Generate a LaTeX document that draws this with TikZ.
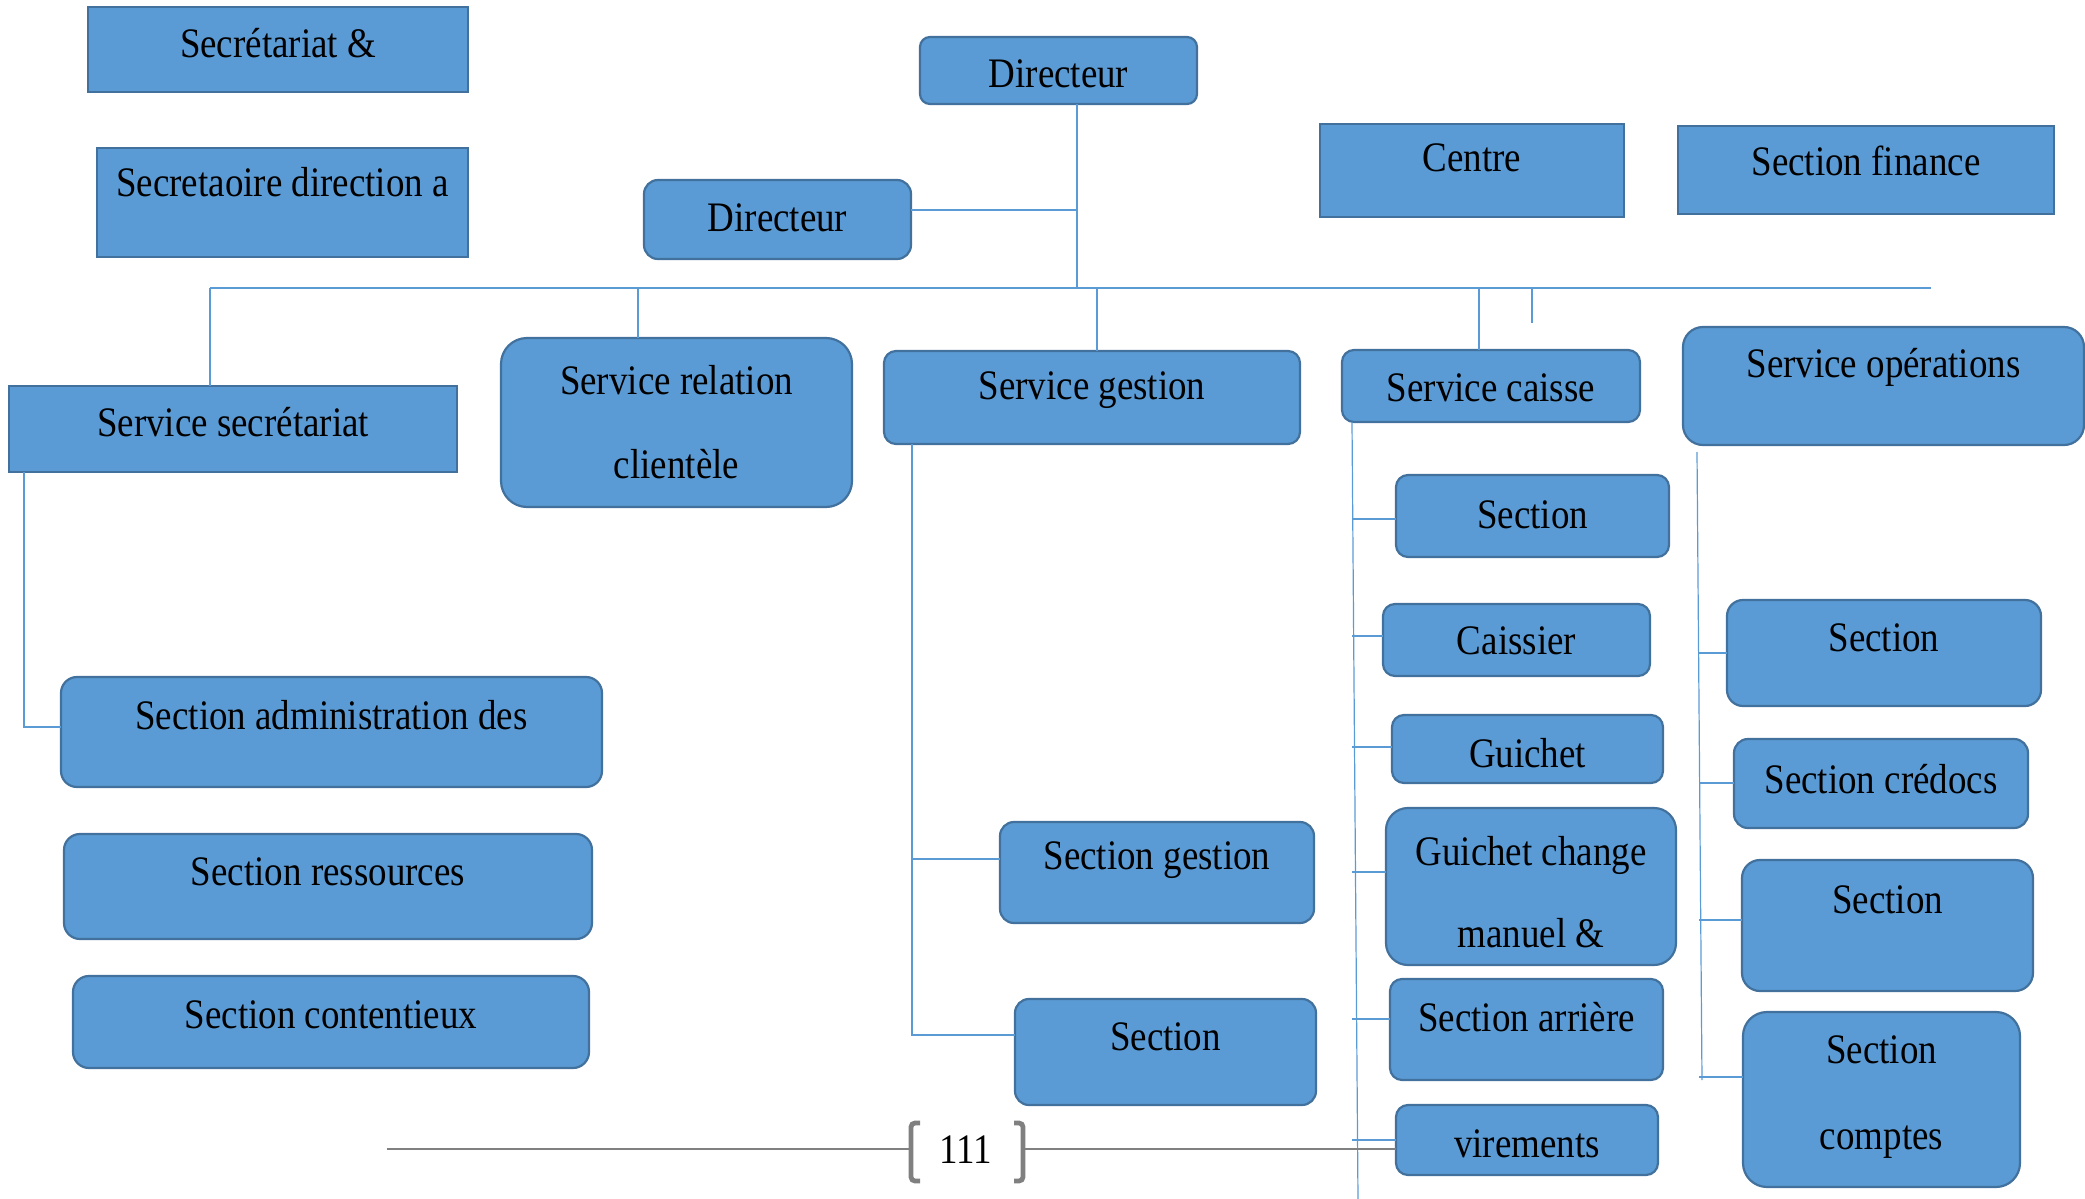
\documentclass[tikz,border=0pt]{standalone}
\usepackage{fontspec}
\setmainfont{Liberation Serif}[FakeStretch=0.88]
\usetikzlibrary{positioning, calc}
\definecolor{boxfill}{HTML}{5B9BD5}
\definecolor{boxline}{HTML}{41719C}
\definecolor{linkblue}{HTML}{5B9BD5}
\definecolor{footgray}{HTML}{808080}
\tikzset{
  unit/.style={draw=boxline, fill=boxfill, line width=1.1pt, inner sep=0pt, outer sep=0pt},
  lbl/.style={font=\fontsize{21}{25}\selectfont, align=center, inner sep=0pt},
  link/.style={draw=linkblue, line width=0.6pt},
  footline/.style={draw=footgray, line width=1.3pt},
  bracket/.style={draw=footgray, line width=2.4pt, rounded corners=2pt},
}
\begin{document}
\begin{tikzpicture}[x=0.5pt, y=-0.5pt]
\useasboundingbox (0,0) rectangle (2085,1199);
% Boxes: name/left/top/right/bottom/corner/text y/text
\foreach \nm/\xa/\ya/\xb/\yb/\rc/\ty/\txt in {
  sec1/88/7/468/92/0/43/{Secrétariat \&},
  sec2/97/148/468/257/0/182/{Secretaoire direction a},
  dir1/920/37/1197/104/5/74/{Directeur},
  dir2/644/180/911/259/7/218/{Directeur},
  centre/1320/124/1624/217/0/158/{Centre},
  finance/1678/126/2054/214/0/161/{Section finance},
  ssec/9/386/457/472/0/422/{Service secrétariat},
  srel/501/338/852/507/13/422/{Service relation\\[17pt]clientèle},
  sgest/884/351/1300/444/6/390/{Service gestion},
  scaisse/1342/350/1640/422/6/388/{Service caisse},
  sops/1683/327/2084/445/10/367/{Service opérations},
  c1/1396/475/1669/557/6/515/{Section},
  c2/1383/604/1650/676/6/641/{Caissier},
  c3/1392/715/1663/783/6/753/{Guichet},
  c4/1386/808/1676/965/11/892/{Guichet change\\[16pt]manuel \&},
  c5/1390/979/1663/1080/6/1017/{Section arrière},
  c6/1396/1105/1658/1175/6/1144/{virements},
  o1/1727/600/2041/706/8/638/{Section},
  o2/1734/739/2028/828/7/779/{Section crédocs},
  o3/1742/860/2033/991/9/900/{Section},
  o4/1743/1012/2020/1187/12/1097/{Section\\[18pt]comptes},
  g1/1000/822/1314/923/7/860/{Section gestion},
  g2/1015/999/1316/1105/7/1037/{Section},
  a1/61/677/602/787/8/715/{Section administration des},
  a2/64/834/592/939/8/872/{Section ressources},
  a3/73/976/589/1068/8/1015/{Section contentieux}} {
  \node[unit, rounded corners=\rc pt, minimum width={(\xb-\xa)*0.5pt},
        minimum height={(\yb-\ya)*0.5pt}] (\nm) at ({(\xa+\xb)/2},{(\ya+\yb)/2}) {};
  \node[lbl] (\nm-t) at ({(\xa+\xb)/2},\ty) {\txt};
}
% Main bar
\coordinate (barL) at (210,288);
\coordinate (barR) at (1931,288);
\coordinate (hub) at (1077,288);
\draw[link] (barL) -- (barR);
\draw[link] (dir1.south -| hub) -- (hub);
\draw[link] (dir2.east |- 0,210) -- (hub |- 0,210);
\draw[link] (barL) -- (barL |- ssec.north);
\draw[link] (barL -| 638,0) -- (srel.north -| 638,0);
\draw[link] (barL -| 1097,0) -- (sgest.north -| 1097,0);
\draw[link] (barL -| 1479,0) -- (scaisse.north -| 1479,0);
\draw[link] (1532,288) -- (1532,323);
% Service secretariat
\draw[link] (ssec.south -| 24,0) -- (24,727) -- (a1.west |- 0,727);
% Service gestion
\draw[link] (sgest.south -| 912,0) -- (912,1035) -- (g2.west |- 0,1035);
\draw[link] (912,859) -- (g1.west |- 0,859);
% Service caisse
\draw[link] (scaisse.south -| 1352,0) -- (1358,1199);
\foreach \nm/\yy in {c1/519, c2/636, c3/747, c4/872, c5/1019, c6/1140}
  \draw[link] (1352,\yy) -- (\nm.west |- 0,\yy);
% Service operations
\draw[link] (1697,452) -- (1702,1080);
\foreach \nm/\yy in {o1/653, o2/783, o3/920, o4/1077}
  \draw[link] (1699,\yy) -- (\nm.west |- 0,\yy);
% Page number
\node[lbl] (pnum) at (966,1150) {111};
\draw[bracket] (920,1123) -- (911,1123) -- (911,1181) -- (920,1181);
\draw[bracket] (1014,1123) -- (1023,1123) -- (1023,1181) -- (1014,1181);
\draw[footline] (387,1149) -- (909,1149);
\draw[footline] (1025,1149) -- (c6.west |- 0,1149);
\end{tikzpicture}
\end{document}
